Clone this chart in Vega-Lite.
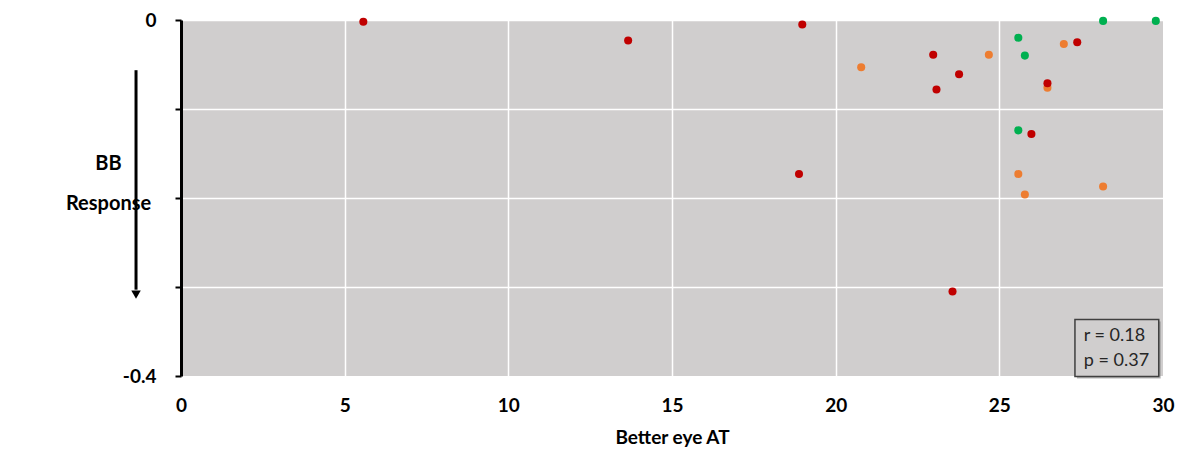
{
  "$schema": "https://vega.github.io/schema/vega-lite/v6.json",
  "width": 982,
  "height": 356,
  "autosize": "none",
  "padding": {"left": 181, "top": 20, "right": 32, "bottom": 79},
  "background": "white",
  "config": {"view": {"fill": "#D0CECE", "stroke": null}, "font": "Lato"},
  "layer": [
    {
      "data": {"values": [
        {"better_eye_AT": 5.57, "bb_response": -0.002, "group": "Group 1"},
        {"better_eye_AT": 13.66, "bb_response": -0.023, "group": "Group 1"},
        {"better_eye_AT": 18.98, "bb_response": -0.005, "group": "Group 1"},
        {"better_eye_AT": 20.78, "bb_response": -0.053, "group": "Group 2"},
        {"better_eye_AT": 22.98, "bb_response": -0.039, "group": "Group 1"},
        {"better_eye_AT": 23.77, "bb_response": -0.061, "group": "Group 1"},
        {"better_eye_AT": 23.08, "bb_response": -0.078, "group": "Group 1"},
        {"better_eye_AT": 24.68, "bb_response": -0.039, "group": "Group 2"},
        {"better_eye_AT": 25.58, "bb_response": -0.020, "group": "Group 3"},
        {"better_eye_AT": 25.78, "bb_response": -0.040, "group": "Group 3"},
        {"better_eye_AT": 26.47, "bb_response": -0.076, "group": "Group 2"},
        {"better_eye_AT": 26.47, "bb_response": -0.071, "group": "Group 1"},
        {"better_eye_AT": 26.97, "bb_response": -0.027, "group": "Group 2"},
        {"better_eye_AT": 27.38, "bb_response": -0.025, "group": "Group 1"},
        {"better_eye_AT": 28.17, "bb_response": -0.001, "group": "Group 3"},
        {"better_eye_AT": 29.78, "bb_response": -0.001, "group": "Group 3"},
        {"better_eye_AT": 25.58, "bb_response": -0.124, "group": "Group 3"},
        {"better_eye_AT": 25.98, "bb_response": -0.128, "group": "Group 1"},
        {"better_eye_AT": 18.88, "bb_response": -0.173, "group": "Group 1"},
        {"better_eye_AT": 25.58, "bb_response": -0.173, "group": "Group 2"},
        {"better_eye_AT": 25.78, "bb_response": -0.196, "group": "Group 2"},
        {"better_eye_AT": 28.17, "bb_response": -0.187, "group": "Group 2"},
        {"better_eye_AT": 23.57, "bb_response": -0.305, "group": "Group 1"}
      ]},
      "mark": {"type": "circle", "size": 65, "opacity": 1},
      "encoding": {
        "x": {
          "field": "better_eye_AT", "type": "quantitative",
          "scale": {"domain": [0, 30], "nice": false, "zero": false},
          "axis": {
            "values": [0, 5, 10, 15, 20, 25, 30],
            "domain": false, "ticks": false,
            "labelFont": "Lato", "labelFontWeight": "bold", "labelFontSize": 19, "labelColor": "black",
            "labelPadding": 20, "labelFlush": false,
            "gridColor": "white", "gridWidth": 1.5,
            "gridOpacity": {"condition": {"test": "datum.value == 30 || datum.value == 0", "value": 0}, "value": 1},
            "title": "Better eye AT",
            "titleFont": "Lato", "titleFontSize": 19, "titleFontWeight": "bold", "titleColor": "black",
            "titlePadding": 13
          }
        },
        "y": {
          "field": "bb_response", "type": "quantitative",
          "scale": {"domain": [-0.4, 0], "nice": false, "zero": false},
          "axis": {
            "values": [-0.4, -0.3, -0.2, -0.1, 0],
            "labelExpr": "datum.value == 0 ? '0' : (datum.value == -0.4 ? '-0.4' : '')",
            "domainColor": "black", "domainWidth": 3,
            "tickColor": "black", "tickWidth": 2, "tickSize": 6,
            "labelFont": "Lato", "labelFontWeight": "bold", "labelFontSize": 19, "labelColor": "black",
            "labelPadding": 19, "labelFlush": false,
            "gridColor": "white", "gridWidth": 1.5,
            "gridOpacity": {"condition": {"test": "datum.value == -0.4", "value": 0}, "value": 1},
            "title": ["BB", "Response"],
            "titleAngle": 0, "titleX": -73, "titleY": 143,
            "titleAlign": "center", "titleBaseline": "middle", "titleLineHeight": 40,
            "titleFont": "Lato", "titleFontSize": 20, "titleFontWeight": "bold", "titleColor": "black"
          }
        },
        "color": {
          "field": "group", "type": "nominal",
          "scale": {"domain": ["Group 1", "Group 2", "Group 3"], "range": ["#C00000", "#ED7D31", "#00B050"]},
          "legend": null
        }
      }
    },
    {
      "data": {"values": [{}]},
      "mark": {"type": "rule", "color": "black", "strokeWidth": 3},
      "encoding": {
        "x": {"datum": -1.374, "type": "quantitative"},
        "y": {"datum": -0.0564, "type": "quantitative"},
        "y2": {"datum": -0.303}
      }
    },
    {
      "data": {"values": [{}]},
      "mark": {"type": "point", "shape": "triangle-down", "filled": true, "color": "black", "opacity": 1, "size": 90},
      "encoding": {
        "x": {"datum": -1.374, "type": "quantitative"},
        "y": {"datum": -0.3085, "type": "quantitative"}
      }
    },
    {
      "data": {"values": [{}]},
      "mark": {"type": "rect", "fill": "#7a7a7a", "opacity": 0.55},
      "encoding": {
        "x": {"datum": 27.37, "type": "quantitative"},
        "x2": {"datum": 29.93},
        "y": {"datum": -0.3388, "type": "quantitative"},
        "y2": {"datum": -0.4029}
      }
    },
    {
      "data": {"values": [{}]},
      "mark": {"type": "rect", "fill": "#D0CECE", "stroke": "#404040", "strokeWidth": 1.5},
      "encoding": {
        "x": {"datum": 27.31, "type": "quantitative"},
        "x2": {"datum": 29.87},
        "y": {"datum": -0.3365, "type": "quantitative"},
        "y2": {"datum": -0.4006}
      }
    },
    {
      "data": {"values": [{"label": "r = 0.18", "lx": 27.58, "ly": -0.3556}, {"label": "p = 0.37", "lx": 27.58, "ly": -0.3837}]},
      "mark": {"type": "text", "align": "left", "baseline": "middle", "fontSize": 18, "font": "Lato", "color": "#262626"},
      "encoding": {
        "x": {"field": "lx", "type": "quantitative"},
        "y": {"field": "ly", "type": "quantitative"},
        "text": {"field": "label"}
      }
    }
  ]
}
